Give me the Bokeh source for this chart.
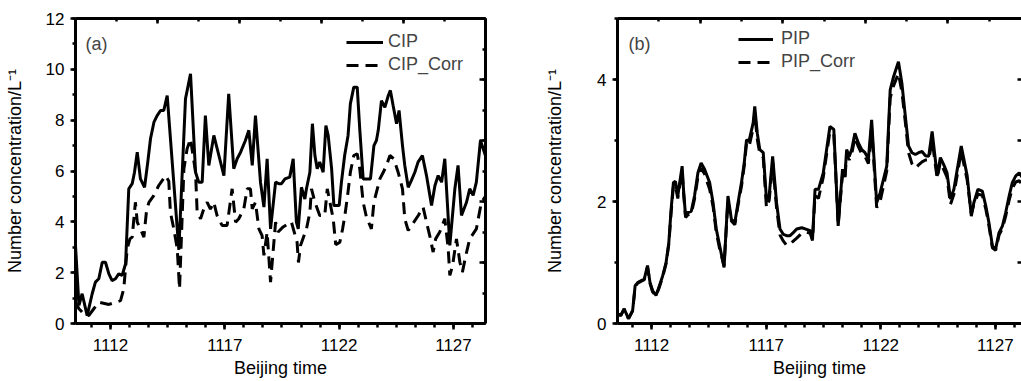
from bokeh.plotting import figure
from bokeh.layouts import row
from bokeh.models import (Range1d, LinearAxis, FixedTicker, SingleIntervalTicker,
                          Legend, LegendItem, Label)
from bokeh.embed import file_html
from bokeh.resources import INLINE

# ---------------- data ----------------
cip_t = [1110.47, 1110.62, 1110.76, 1110.98, 1111.20, 1111.34, 1111.49, 1111.64, 1111.78, 1111.93,
         1112.07, 1112.22, 1112.36, 1112.51, 1112.66, 1112.80, 1112.95, 1113.05, 1113.17, 1113.31,
         1113.49, 1113.63, 1113.75, 1113.90, 1114.04, 1114.19, 1114.33, 1114.48, 1114.99, 1115.28,
         1115.50, 1115.72, 1115.86, 1116.01, 1116.15, 1116.30, 1116.52, 1116.74, 1116.96, 1117.17,
         1117.39, 1117.54, 1117.69, 1117.90, 1118.05, 1118.20, 1118.34, 1118.56, 1118.71, 1118.85,
         1119.00, 1119.22, 1119.36, 1119.48, 1119.63, 1119.84, 1119.99, 1120.13, 1120.21, 1120.35,
         1120.50, 1120.57, 1120.72, 1120.83, 1120.94, 1121.04, 1121.15, 1121.30, 1121.42, 1121.52,
         1121.67, 1121.77, 1122.00, 1122.10, 1122.24, 1122.39, 1122.49, 1122.64, 1122.79, 1122.90,
         1123.05, 1123.37, 1123.52, 1123.63, 1123.71, 1123.85, 1124.00, 1124.15, 1124.24, 1124.36,
         1124.51, 1124.62, 1124.77, 1124.87, 1125.02, 1125.16, 1125.31, 1125.45, 1125.64, 1125.82,
         1126.04, 1126.19, 1126.33, 1126.48, 1126.62, 1126.84, 1127.06, 1127.20, 1127.35, 1127.57,
         1127.71, 1127.86, 1128.00, 1128.18, 1128.40]
cip_v = [3.07, 0.71, 1.17, 0.31, 1.17, 1.63, 1.76, 2.41, 2.41, 1.95,
         1.69, 1.76, 1.95, 1.89, 2.35, 5.30, 5.50, 5.95, 6.74, 5.69,
         5.36, 6.35, 7.27, 7.92, 8.18, 8.38, 8.38, 8.97, 2.90, 8.84,
         9.82, 5.95, 5.56, 5.56, 8.18, 6.22, 7.40, 6.61, 5.82, 9.04,
         6.09, 6.48, 6.74, 7.20, 7.60, 6.22, 8.18, 5.56, 4.58, 6.48,
         3.72, 5.56, 5.50, 5.50, 5.69, 5.76, 6.48, 3.99, 3.72, 5.36,
         4.90, 5.30, 5.95, 7.86, 6.61, 6.09, 6.35, 5.95, 7.79, 7.40,
         6.09, 4.64, 4.64, 5.56, 6.61, 7.40, 8.64, 9.30, 9.30, 7.66,
         5.69, 5.69, 7.00, 7.20, 7.60, 8.77, 8.51, 8.97, 9.17, 8.58,
         7.86, 8.38, 7.00, 6.22, 5.36, 5.63, 5.95, 6.35, 6.61, 5.82,
         4.64, 5.43, 5.82, 5.56, 6.48, 3.07, 5.30, 6.22, 4.25, 4.77,
         5.30, 5.04, 5.56, 7.20, 6.60]

cipc_t = [1110.47, 1110.62, 1110.83, 1111.05, 1111.27, 1111.49, 1111.93, 1112.44, 1112.58, 1112.73,
          1112.85, 1112.95, 1113.09, 1113.17, 1113.31, 1113.46, 1113.57, 1113.68, 1113.90, 1114.11,
          1114.41, 1114.55, 1114.62, 1114.77, 1114.92, 1115.02, 1115.21, 1115.35, 1115.50, 1115.72,
          1115.79, 1115.94, 1116.08, 1116.23, 1116.37, 1116.52, 1116.66, 1116.88, 1117.10, 1117.32,
          1117.47, 1117.61, 1117.83, 1117.98, 1118.12, 1118.20, 1118.34, 1118.49, 1118.63, 1118.71,
          1118.85, 1119.00, 1119.22, 1119.33, 1119.55, 1119.91, 1120.16, 1120.22, 1120.31, 1120.57,
          1120.72, 1120.79, 1120.94, 1121.15, 1121.37, 1121.48, 1121.74, 1121.85, 1122.03, 1122.15,
          1122.25, 1122.37, 1122.49, 1122.64, 1122.79, 1122.90, 1123.05, 1123.19, 1123.41, 1123.52,
          1123.78, 1123.93, 1124.07, 1124.22, 1124.39, 1124.58, 1124.77, 1124.87, 1125.02, 1125.46,
          1125.67, 1125.82, 1125.96, 1126.11, 1126.22, 1126.40, 1126.62, 1126.77, 1126.84, 1126.96,
          1127.13, 1127.28, 1127.39, 1127.54, 1127.71, 1128.00, 1128.22, 1128.40]
cipc_v = [0.84, 0.58, 0.38, 0.31, 0.58, 0.84, 0.75, 0.90, 1.36, 2.94,
          3.33, 3.40, 4.77, 3.99, 3.72, 3.40, 4.38, 4.77, 5.04, 5.43,
          5.82, 5.60, 4.38, 3.72, 2.94, 1.36, 6.09, 6.87, 7.27, 5.95,
          4.38, 4.12, 4.51, 4.77, 4.50, 4.77, 4.25, 3.86, 3.86, 5.30,
          3.99, 4.12, 4.51, 5.30, 5.30, 4.51, 4.77, 3.72, 3.46, 2.68,
          3.59, 1.63, 3.99, 3.60, 3.80, 4.00, 3.20, 2.40, 3.07, 3.72,
          4.38, 5.30, 4.77, 4.25, 4.25, 5.30, 4.12, 3.10, 3.20, 3.72,
          4.25, 5.04, 5.95, 6.61, 6.68, 6.09, 4.77, 4.20, 3.72, 4.77,
          5.69, 5.95, 6.22, 6.61, 6.48, 5.95, 5.30, 4.12, 3.66, 4.25,
          4.58, 3.99, 3.46, 2.81, 3.33, 3.60, 4.12, 2.94, 1.89, 2.28,
          3.33, 2.41, 2.02, 2.68, 3.33, 3.72, 4.77, 5.00]

pip_t = [1110.51, 1110.65, 1110.80, 1110.99, 1111.17, 1111.28, 1111.39, 1111.53, 1111.68, 1111.82,
         1111.93, 1112.04, 1112.19, 1112.34, 1112.48, 1112.63, 1112.75, 1112.85, 1112.95, 1113.04,
         1113.14, 1113.33, 1113.39, 1113.48, 1113.58, 1113.73, 1113.87, 1114.02, 1114.16, 1114.31,
         1114.53, 1114.68, 1114.82, 1114.97, 1115.16, 1115.33, 1115.48, 1115.63, 1115.77, 1115.92,
         1116.04, 1116.14, 1116.25, 1116.43, 1116.50, 1116.61, 1116.72, 1116.87, 1117.01, 1117.13,
         1117.28, 1117.45, 1117.60, 1117.75, 1117.89, 1118.04, 1118.18, 1118.33, 1118.55, 1118.70,
         1118.92, 1119.02, 1119.13, 1119.28, 1119.49, 1119.78, 1119.95, 1120.14, 1120.33, 1120.43,
         1120.51, 1120.62, 1120.73, 1120.87, 1121.02, 1121.17, 1121.31, 1121.46, 1121.60, 1121.82,
         1121.97, 1122.26, 1122.41, 1122.56, 1122.77, 1122.92, 1123.07, 1123.21, 1123.36, 1123.51,
         1123.65, 1123.80, 1123.95, 1124.09, 1124.24, 1124.46, 1124.60, 1124.75, 1124.89, 1125.04,
         1125.19, 1125.51, 1125.77, 1125.95, 1126.06, 1126.24, 1126.43, 1126.58, 1126.72, 1126.87,
         1127.01, 1127.16, 1127.31, 1127.45, 1127.60, 1127.74, 1127.89, 1128.04, 1128.23]
pip_v = [0.16, 0.13, 0.24, 0.08, 0.21, 0.62, 0.67, 0.70, 0.73, 0.95,
         0.67, 0.54, 0.46, 0.62, 0.78, 1.00, 1.33, 1.87, 2.31, 2.33,
         2.09, 2.58, 2.20, 1.76, 1.82, 1.84, 2.09, 2.47, 2.63, 2.53,
         2.31, 1.98, 1.55, 1.27, 0.92, 2.09, 1.71, 1.65, 1.98, 2.31,
         2.63, 3.01, 2.99, 3.29, 3.56, 3.12, 2.85, 2.80, 2.04, 2.10,
         2.74, 1.98, 1.55, 1.46, 1.44, 1.44, 1.49, 1.55, 1.57, 1.55,
         1.52, 1.38, 2.20, 2.20, 2.47, 3.23, 3.18, 1.60, 2.53, 2.40,
         2.85, 2.74, 2.85, 3.12, 2.96, 2.85, 2.80, 2.70, 3.34, 1.98,
         2.14, 2.58, 3.83, 4.05, 4.29, 3.94, 3.40, 2.91, 2.80, 2.77,
         2.80, 2.82, 2.75, 2.74, 3.15, 2.42, 2.72, 2.60, 2.47, 2.04,
         2.20, 2.91, 2.42, 1.76, 1.98, 2.20, 2.17, 1.93, 1.65, 1.27,
         1.22, 1.49, 1.60, 1.82, 2.09, 2.31, 2.42, 2.47, 2.36]
pipc_v = [0.16, 0.13, 0.24, 0.08, 0.21, 0.60, 0.66, 0.69, 0.72, 0.92,
          0.66, 0.52, 0.45, 0.60, 0.76, 0.98, 1.30, 1.82, 2.25, 2.26,
          2.05, 2.50, 2.15, 1.74, 1.78, 1.80, 2.04, 2.40, 2.55, 2.45,
          2.20, 1.92, 1.50, 1.22, 0.95, 2.02, 1.68, 1.62, 1.94, 2.25,
          2.58, 2.95, 2.90, 3.20, 3.45, 3.02, 2.78, 2.72, 1.90, 2.02,
          2.65, 1.90, 1.45, 1.35, 1.28, 1.30, 1.35, 1.40, 1.48, 1.50,
          1.48, 1.36, 2.10, 2.05, 2.40, 3.15, 3.10, 1.62, 2.45, 2.35,
          2.78, 2.68, 2.78, 3.05, 2.90, 2.78, 2.74, 2.62, 3.22, 1.90,
          2.00, 2.50, 3.70, 3.90, 4.10, 3.80, 3.30, 2.80, 2.62, 2.55,
          2.60, 2.65, 2.68, 2.68, 3.00, 2.38, 2.65, 2.52, 2.40, 1.95,
          2.12, 2.82, 2.35, 1.80, 1.95, 2.12, 2.10, 1.88, 1.60, 1.24,
          1.20, 1.45, 1.56, 1.76, 2.02, 2.22, 2.32, 2.34, 2.25]

x_ticks = [1112, 1117, 1122, 1127]
x_label = "Beijing time"
y_label = "Number concentration/L\u207b\u00b9"

FONT = "Liberation Sans"
DASH = "12 7"


def style_axes(p, label_standoff_y):
    xa = p.xaxis[0]
    xa.ticker = FixedTicker(ticks=x_ticks,
                            minor_ticks=[1112 + k * 5 / 6 for k in range(-2, 21)])
    xa.axis_label = x_label
    ya = p.yaxis[0]
    ya.axis_label = y_label
    for ax, tout, mout in ((xa, 6, 4), (ya, 5, 3)):
        ax.axis_line_width = 3
        ax.major_tick_line_width = 2.5
        ax.minor_tick_line_width = 2.5
        ax.major_tick_out = tout
        ax.major_tick_in = 0
        ax.minor_tick_out = mout
        ax.minor_tick_in = 0
        ax.major_label_text_font = FONT
        ax.major_label_text_font_size = "17px"
        ax.major_label_text_color = "black"
        ax.axis_label_text_font = FONT
        ax.axis_label_text_font_size = "18px"
        ax.axis_label_text_font_style = "normal"
        ax.axis_label_text_color = "black"
    xa.major_label_standoff = 9
    xa.axis_label_standoff = 4
    ya.major_label_standoff = 6
    ya.axis_label_standoff = label_standoff_y


def blank_axis(ax, tin, min_in, show_line=True):
    ax.axis_line_width = 3
    ax.axis_line_color = "black" if show_line else None
    ax.major_tick_line_width = 2.5
    ax.minor_tick_line_width = 2.5
    ax.major_tick_in = tin
    ax.major_tick_out = 0
    ax.minor_tick_in = min_in
    ax.minor_tick_out = 0
    ax.major_label_text_color = None
    ax.major_label_text_font_size = "1px"
    ax.major_label_standoff = 0
    ax.axis_label_standoff = 0


def base_fig(width, xr, yr, mbl, mbr):
    p = figure(width=width, height=381, x_range=xr, y_range=yr,
               output_backend="svg", toolbar_location=None,
               min_border_left=mbl, min_border_right=mbr,
               min_border_top=18, min_border_bottom=58)
    p.grid.visible = False
    p.outline_line_color = None
    p.background_fill_color = "white"
    p.border_fill_color = "white"
    return p


# ---------------- panel (a) ----------------
p1 = base_fig(520, (1110.47, 1128.4), (0, 12), 75, 35)
p1.yaxis[0].ticker = SingleIntervalTicker(interval=2, num_minor_ticks=2)
style_axes(p1, 18)
p1.extra_x_ranges = {"top": Range1d(0, 10)}
p1.extra_y_ranges = {"right": Range1d(0, 10)}
ta = LinearAxis(x_range_name="top", ticker=SingleIntervalTicker(interval=2, num_minor_ticks=2))
blank_axis(ta, 5, 3)
p1.add_layout(ta, "above")
ra = LinearAxis(y_range_name="right", ticker=SingleIntervalTicker(interval=2, num_minor_ticks=2))
blank_axis(ra, 6, 3)
p1.add_layout(ra, "right")

r1 = p1.line(cip_t, cip_v, line_color="black", line_width=3)
r2 = p1.line(cipc_t, cipc_v, line_color="black", line_width=3, line_dash=DASH)
leg1 = Legend(items=[LegendItem(label="CIP", renderers=[r1]),
                     LegendItem(label="CIP_Corr", renderers=[r2])],
              location=(271, 248), padding=0, margin=0, spacing=2,
              glyph_width=37, glyph_height=20, label_height=20, label_standoff=5,
              label_text_font=FONT, label_text_font_size="18px",
              border_line_color=None, background_fill_alpha=0)
p1.add_layout(leg1)
p1.add_layout(Label(x=10, y=280, x_units="screen", y_units="screen", text="(a)",
                    text_font=FONT, text_font_size="18px", text_baseline="middle"))

# ---------------- panel (b) ----------------
p2 = base_fig(501, (1110.51, 1128.14), (0, 5), 97, 0)
p2.yaxis[0].ticker = SingleIntervalTicker(interval=2, num_minor_ticks=2)
style_axes(p2, 29)
p2.extra_x_ranges = {"top": Range1d(0, 9.78)}
tb = LinearAxis(x_range_name="top", ticker=SingleIntervalTicker(interval=2, num_minor_ticks=2))
blank_axis(tb, 5, 3)
p2.add_layout(tb, "above")
rb = LinearAxis(ticker=SingleIntervalTicker(interval=1, num_minor_ticks=0))
blank_axis(rb, 4, 0, show_line=False)
p2.add_layout(rb, "right")

r3 = p2.line(pip_t, pip_v, line_color="black", line_width=3)
r4 = p2.line(pip_t, pipc_v, line_color="black", line_width=3, line_dash=DASH)
leg2 = Legend(items=[LegendItem(label="PIP", renderers=[r3]),
                     LegendItem(label="PIP_Corr", renderers=[r4])],
              location=(121, 251), padding=0, margin=0, spacing=2,
              glyph_width=35, glyph_height=20, label_height=20, label_standoff=8,
              label_text_font=FONT, label_text_font_size="18px",
              border_line_color=None, background_fill_alpha=0)
p2.add_layout(leg2)
p2.add_layout(Label(x=11, y=280, x_units="screen", y_units="screen", text="(b)",
                    text_font=FONT, text_font_size="18px", text_baseline="middle"))

layout = row(p1, p2)
open("out.html", "w").write(file_html(layout, INLINE))
